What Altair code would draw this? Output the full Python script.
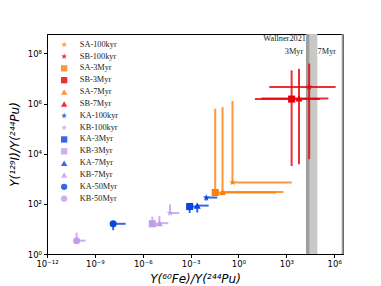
import altair as alt
import pandas as pd

# ---- data ----
labels = ["SA-100kyr", "SB-100kyr", "SA-3Myr", "SB-3Myr", "SA-7Myr", "SB-7Myr",
          "KA-100kyr", "KB-100kyr", "KA-3Myr", "KB-3Myr", "KA-7Myr", "KB-7Myr",
          "KA-50Myr", "KB-50Myr"]
x_val = [0.42, 2.7e4, 0.035, 2140, 0.10, 6200, 0.0095, 5.1e-5, 8.7e-4, 4.0e-6, 2.6e-3, 1.1e-5, 1.4e-8, 7.2e-11]
x_lo  = [0.42, 85, 0.035, 10.7, 0.10, 28, 0.0095, 5.1e-5, 8.7e-4, 4.0e-6, 2.6e-3, 1.1e-5, 1.4e-8, 7.2e-11]
x_hi  = [2140, 1.23e6, 224, 1.26e5, 650, 4.3e5, 0.047, 1.95e-4, 2.2e-3, 1.05e-5, 0.0135, 4.0e-5, 8.5e-8, 2.6e-10]
y_val = [708, 4.6e6, 282, 1.5e6, 295, 1.6e6, 178, 43, 78, 16, 85, 17, 16, 3.4]
y_lo  = [708, 6.0e3, 282, 3.2e3, 295, 3.8e3, 135, 43, 43, 16, 45, 17, 8.9, 3.4]
y_hi  = [1.26e6, 3.9e7, 6.2e5, 2.1e7, 7.2e5, 2.4e7, 178, 95, 78, 31, 85, 33, 16, 7.1]

STAR = "M0,-1L0.223,-0.307L0.951,-0.309L0.361,0.117L0.588,0.809L0,0.38L-0.588,0.809L-0.361,0.117L-0.951,-0.309L-0.223,-0.307Z"
ORANGE, RED, BLUE, LAV = "#ff7f0e", "#e8000b", "#0a45e0", "#c49cee"
colors = [ORANGE, RED, ORANGE, RED, ORANGE, RED, BLUE, LAV, BLUE, LAV, BLUE, LAV, BLUE, LAV]
shapes = [STAR, STAR, "square", "square", "triangle-up", "triangle-up",
          STAR, STAR, "square", "square", "triangle-up", "triangle-up", "circle", "circle"]

band_x0 = [1.7e4, 1.7e4]
band_x1 = [8.7e4, 2.75e4]
band_col = ["#c6c9c6", "#8e908e"]
band_op = [1.0, 0.75]

edge_x = [3.4e6]

note_text = ["Wallner2021", "3Myr", "7Myr"]
note_x = [1.7e4, 1.15e4, 9.1e4]
note_y = [3.2e8, 9.7e7, 9.7e7]
note_align = ["right", "right", "left"]

x_ticks = [1e-12, 1e-9, 1e-6, 1e-3, 1, 1e3, 1e6]
x_tick_labels = ["10⁻¹²", "10⁻⁹", "10⁻⁶", "10⁻³", "10⁰", "10³", "10⁶"]
y_ticks = [1, 1e2, 1e4, 1e6, 1e8]
y_tick_labels = ["10⁰", "10²", "10⁴", "10⁶", "10⁸"]

XMIN, XMAX = 1e-12, 3.55e6
YMIN, YMAX = 1, 5.9e8

# ---- build ----
df = pd.DataFrame({"label": labels, "x": x_val, "xlo": x_lo, "xhi": x_hi,
                   "y": y_val, "ylo": y_lo, "yhi": y_hi, "col": colors})
bands = pd.DataFrame({"x0": band_x0, "x1": band_x1, "c": band_col, "op": band_op,
                      "y0": [YMIN] * 2, "y1": [YMAX] * 2})
edge = pd.DataFrame({"x": edge_x})
notes = pd.DataFrame({"t": note_text, "x": note_x, "y": note_y, "a": note_align})


def label_expr(vals, labs):
    expr = "''"
    for v, l in reversed(list(zip(vals, labs))):
        expr = f"abs(datum.value / {v} - 1) < 0.01 ? '{l}' : ({expr})"
    return expr


xs = alt.Scale(type="log", domain=[XMIN, XMAX], nice=False)
ys = alt.Scale(type="log", domain=[YMIN, YMAX], nice=False)
xaxis = alt.Axis(values=x_ticks, labelExpr=label_expr(x_ticks, x_tick_labels), grid=False,
                 tickSize=3.5, labelFont="DejaVu Sans", labelFontSize=8.5, labelPadding=2,
                 title="Y(⁶⁰Fe)/Y(²⁴⁴Pu)", titleFont="DejaVu Sans", titleFontSize=12,
                 titleFontStyle="italic", titleFontWeight="normal", titlePadding=5,
                 domainColor="black", tickColor="black", labelColor="black", titleColor="black",
                 labelFlush=False)
yaxis = alt.Axis(values=y_ticks, labelExpr=label_expr(y_ticks, y_tick_labels), grid=False,
                 tickSize=3.5, labelFont="DejaVu Sans", labelFontSize=8.5, labelPadding=2,
                 title="Y(¹²⁹I)/Y(²⁴⁴Pu)", titleFont="DejaVu Sans", titleFontSize=12,
                 titleFontStyle="italic", titleFontWeight="normal", titlePadding=6,
                 domainColor="black", tickColor="black", labelColor="black", titleColor="black",
                 labelFlush=False)

cscale = alt.Scale(domain=labels, range=colors)
sscale = alt.Scale(domain=labels, range=shapes)

band_layer = alt.Chart(bands).mark_rect(clip=True).encode(
    x=alt.X("x0:Q", scale=xs, axis=xaxis), x2="x1:Q",
    y=alt.Y("y0:Q", scale=ys, axis=yaxis), y2="y1:Q",
    color=alt.Color("c:N", scale=None), opacity=alt.Opacity("op:Q", scale=None))

edge_layer = alt.Chart(edge).mark_rule(color="#9a9a9a", strokeWidth=2).encode(
    x=alt.X("x:Q", scale=xs))

hbar = alt.Chart(df).mark_rule(strokeWidth=2, opacity=0.82, clip=True).encode(
    x=alt.X("xlo:Q", scale=xs), x2="xhi:Q", y=alt.Y("y:Q", scale=ys),
    color=alt.Color("col:N", scale=None))
vbar = alt.Chart(df).mark_rule(strokeWidth=2, opacity=0.82, clip=True).encode(
    x=alt.X("x:Q", scale=xs), y=alt.Y("ylo:Q", scale=ys), y2="yhi:Q",
    color=alt.Color("col:N", scale=None))

legend = alt.Legend(orient="none", legendX=13, legendY=6.5, padding=0,
                    labelFont="Liberation Serif", labelFontSize=8.3,
                    labelColor="#222222", symbolSize=40, rowPadding=2.85,
                    labelOffset=11.5, symbolStrokeWidth=0, symbolOpacity=1)

points = alt.Chart(df).mark_point(filled=True, opacity=1, size=50, clip=True).encode(
    x=alt.X("x:Q", scale=xs), y=alt.Y("y:Q", scale=ys),
    color=alt.Color("label:N", scale=cscale, title=None, legend=legend),
    shape=alt.Shape("label:N", scale=sscale, title=None, legend=legend))

text_layers = []
for al in ["right", "left"]:
    text_layers.append(
        alt.Chart(notes).transform_filter(alt.datum.a == al).mark_text(
            font="Liberation Serif", fontSize=8.3, baseline="alphabetic", align=al,
            color="#222222").encode(
            x=alt.X("x:Q", scale=xs), y=alt.Y("y:Q", scale=ys), text="t:N"))

chart = alt.layer(band_layer, edge_layer, hbar, vbar, points, *text_layers).properties(
    width=296, height=220,
    autosize=alt.AutoSizeParams(type="none"),
    padding={"left": 39, "top": 26, "right": 30, "bottom": 32},
    background="white",
).configure_view(stroke="black", strokeWidth=1)

chart.save("out.html", embed_options={"renderer": "svg", "actions": False})
